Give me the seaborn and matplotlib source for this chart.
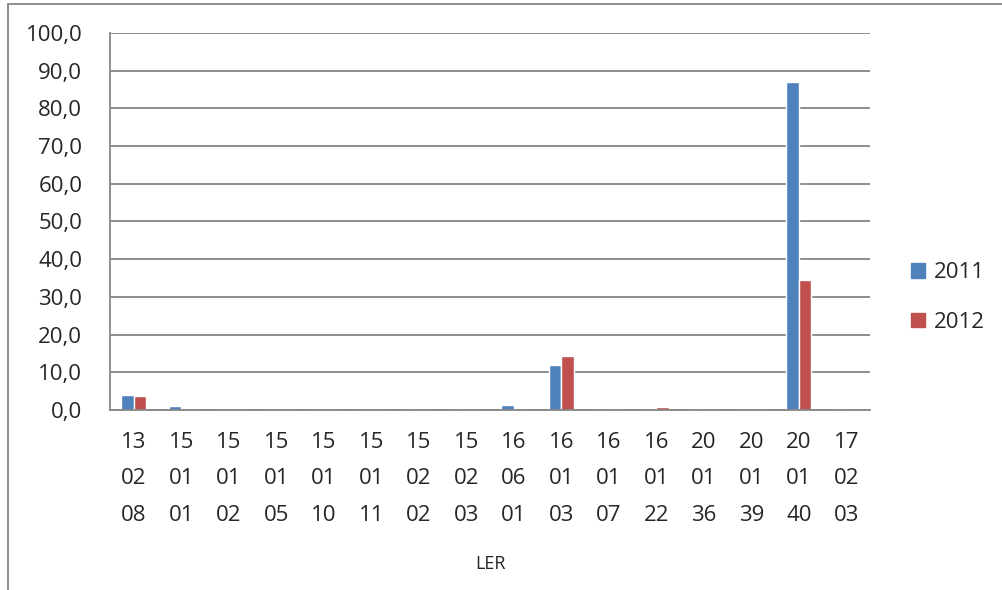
import matplotlib
matplotlib.use('Agg')
import matplotlib.pyplot as plt
import numpy as np
import pandas as pd
import seaborn as sns
from matplotlib.ticker import FuncFormatter, MultipleLocator
from matplotlib.lines import Line2D

sns.set_style('white')
plt.rcParams['font.family'] = ['Open Sans', 'DejaVu Sans']

# codes LER
ler = ['13\n02\n08', '15\n01\n01', '15\n01\n02', '15\n01\n05', '15\n01\n10',
       '15\n01\n11', '15\n02\n02', '15\n02\n03', '16\n06\n01', '16\n01\n03',
       '16\n01\n07', '16\n01\n22', '20\n01\n36', '20\n01\n39', '20\n01\n40',
       '17\n02\n03']
v2011 = [3.9, 1.0, 0.1, 0.1, 0.1, 0.0, 0.3, 0.3, 1.2, 12.0, 0.6, 0.0, 0.2, 0.0, 86.9, 0.2]
v2012 = [3.8, 0.1, 0.1, 0.1, 0.1, 0.1, 0.1, 0.1, 0.0, 14.4, 0.2, 0.9, 0.0, 0.1, 34.5, 0.0]
anos = ['2011', '2012']

df = pd.DataFrame({
    'LER': ler * 2,
    'valor': v2011 + v2012,
    'ano': [anos[0]] * len(ler) + [anos[1]] * len(ler),
})

fig = plt.figure(figsize=(10.03, 5.9), dpi=100)
ax = fig.add_axes([0.1097, 0.3051, 0.7577, 0.639])

sns.barplot(data=df, x='LER', y='valor', hue='ano', palette=['#4F81BD', '#C0504D'],
            width=0.53, ax=ax, saturation=1, legend=False)

ax.set_ylim(0, 100)
ax.yaxis.set_major_locator(MultipleLocator(10))
ax.yaxis.set_major_formatter(FuncFormatter(lambda v, p: f'{v:.1f}'.replace('.', ',')))
ax.grid(axis='y', color='#868686', lw=1.3)
ax.set_axisbelow(True)
ax.set_xlim(-0.5, len(ler) - 0.5)

for s in ['top', 'right']:
    ax.spines[s].set_visible(False)
for s in ['left', 'bottom']:
    ax.spines[s].set_color('#868686')
    ax.spines[s].set_linewidth(1.3)

ax.tick_params(axis='y', length=8, width=1.3, color='#868686', labelsize=16, pad=12)
ax.tick_params(axis='x', length=0, labelsize=16, pad=16)
for t in ax.get_xticklabels():
    t.set_linespacing(1.95)

ax.set_ylabel('')
ax.set_xlabel('LER', fontsize=13)
ax.xaxis.set_label_coords(0.5, -0.385)

handles = [plt.Rectangle((0, 0), 1, 1, color=c) for c in ['#4F81BD', '#C0504D']]
fig.legend(handles, anos, loc='center left', bbox_to_anchor=(0.888, 0.496),
           frameon=False, fontsize=16, handlelength=0.65, handleheight=0.65,
           handletextpad=0.4, labelspacing=1.3)

# chart border
fig.add_artist(Line2D([0.008, 0.008], [0, 0.993], color='#868686', lw=1.3))
fig.add_artist(Line2D([0.008, 1.0], [0.993, 0.993], color='#868686', lw=1.3))

fig.savefig('out.png', dpi=100)
